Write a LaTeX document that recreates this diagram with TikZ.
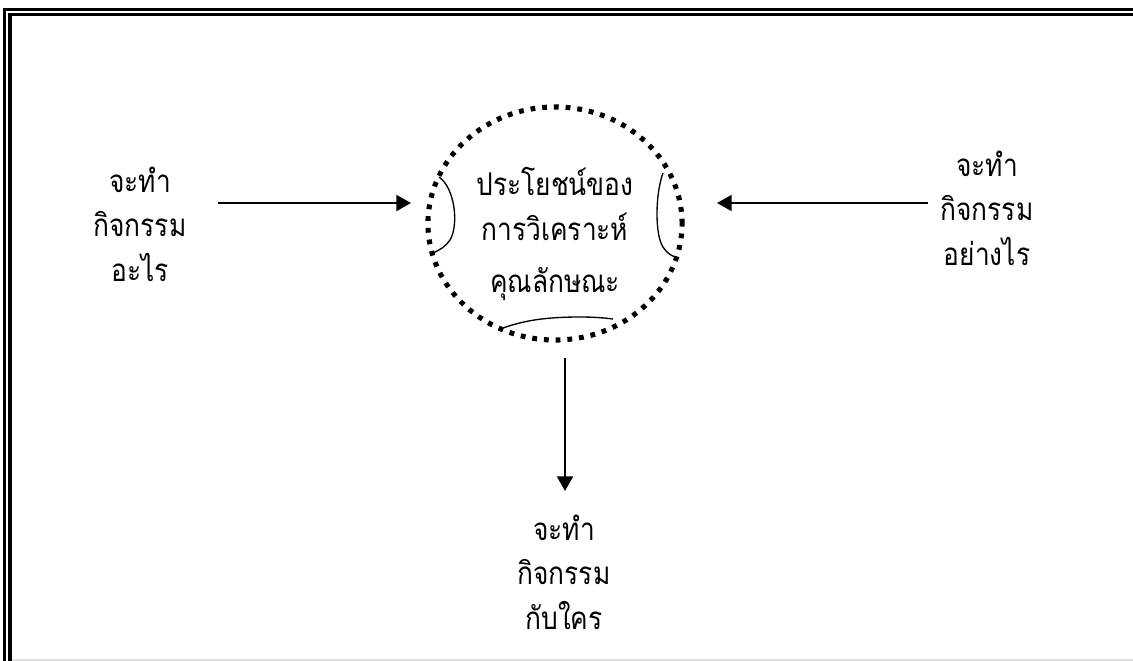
\documentclass[tikz,border=0pt]{standalone}
\usepackage{fontspec}
\newfontfamily\thaifont[Script=Thai,FakeStretch=0.84]{Loma}
\usetikzlibrary{arrows.meta}
\begin{document}
\begin{tikzpicture}[x=0.75pt,y=-0.75pt,
  lbl/.style={font=\thaifont\fontsize{23.5}{33.5}\selectfont, align=center, inner sep=0pt},
  conn/.style={line width=1.5pt, -{Triangle[length=11pt,width=12pt]}},
  hand/.style={line width=1pt},
  dotring/.style={line width=3.8pt, dash pattern=on 3.6pt off 5.2pt}]
\useasboundingbox (0,0) rectangle (1133,661);
% frame
\draw[line width=2.3pt] (4.5,661) -- (4.5,9.5) -- (1133,9.5);
\draw[line width=2.3pt] (10,661) -- (10,14.5) -- (1133,14.5);
\draw[black!12, line width=1pt] (12,660) -- (1133,660);
% circle
\coordinate (c) at (555,223.5);
\draw[dotring] (c) ellipse [x radius=95.3pt, y radius=87.4pt];
\node[lbl, anchor=base] (t1) at (555,195) {ประโยชน์ของ};
\node[lbl, anchor=base] (t2) at (555,240) {การวิเคราะห์};
\node[lbl, anchor=base] (t3) at (555,292) {คุณลักษณะ};
% hand-drawn curves
\draw[hand] (439,177) .. controls (455,188) and (459,225) .. (450,240) .. controls (446,246) and (440,250) .. (433,253);
\draw[hand] (663,173) .. controls (655,195) and (655,235) .. (663,247) .. controls (666,252) and (670,255) .. (675,257);
\draw[hand] (503,328) .. controls (520,322) and (540,317) .. (580,317) .. controls (595,317) and (605,318) .. (613,319);
% labels
\node[lbl] (left) at (140,224) {จะทำ\\กิจกรรม\\อะไร};
\node[lbl] (right) at (987,208) {จะทำ\\กิจกรรม\\อย่างไร};
\node[lbl] (bottom) at (564,572) {จะทำ\\กิจกรรม\\กับใคร};
% connectors
\coordinate (la) at (218,203);
\coordinate (lb) at (411,203);
\coordinate (ra) at (928,203);
\coordinate (rb) at (717,203);
\coordinate (da) at (565,358);
\coordinate (db) at (565,491);
\draw[conn] (la) -- (lb);
\draw[conn] (ra) -- (rb);
\draw[conn] (da) -- (db);
\end{tikzpicture}
\end{document}
